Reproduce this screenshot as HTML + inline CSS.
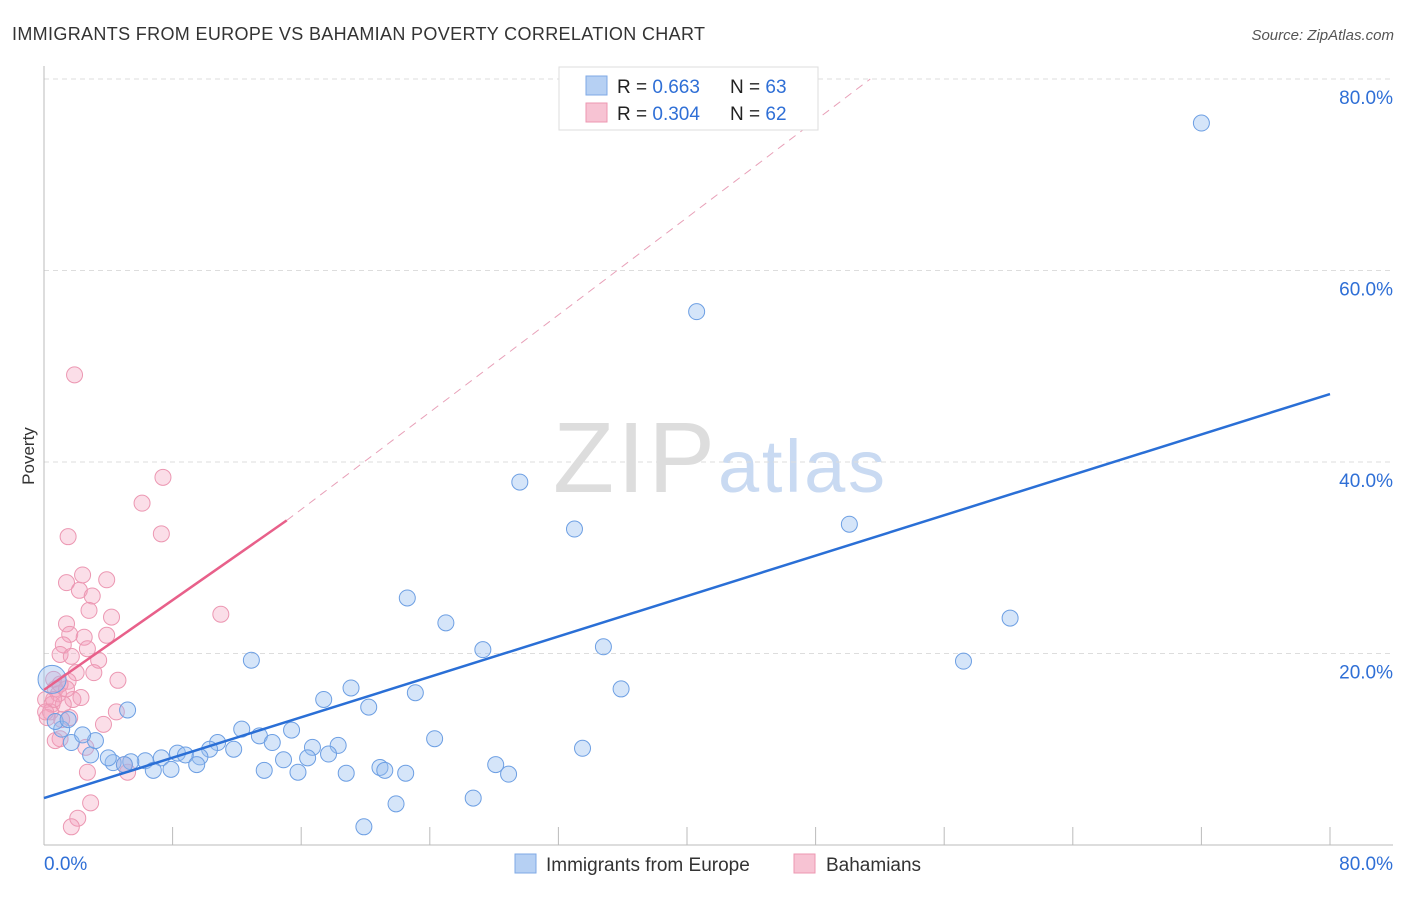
<!DOCTYPE html>
<html><head><meta charset="utf-8"><style>
body{margin:0;background:#fff;font-family:"Liberation Sans",sans-serif;}
svg text{font-family:"Liberation Sans",sans-serif;}
</style></head><body>
<svg id="chart" width="1406" height="892">
<text x="12" y="40" font-size="18" fill="#333" textLength="693">IMMIGRANTS FROM EUROPE VS BAHAMIAN POVERTY CORRELATION CHART</text>
<text x="1394" y="40" font-size="15" fill="#555" font-style="italic" text-anchor="end">Source: ZipAtlas.com</text>
<text x="34" y="456" font-size="17" fill="#333" transform="rotate(-90 34 456)" text-anchor="middle">Poverty</text>
<text x="553" y="492" font-size="100" fill="#ddd" font-family="Liberation Serif" textLength="162">ZIP</text>
<text x="718" y="492" font-size="74" fill="#c9daf2" textLength="167">atlas</text>
<g id="grid"></g><g id="axes"></g><g id="pts"></g><g id="lines"></g>
<g>
<rect x="559" y="67" width="259" height="63" fill="#fff" stroke="#ddd"/>
<rect x="586" y="76" width="21" height="19" fill="#b6d0f3" stroke="#7fa9e6"/>
<rect x="586" y="103" width="21" height="19" fill="#f7c3d3" stroke="#ec97b2"/>
<text x="617" y="93" font-size="19" fill="#222">R = <tspan fill="#2f6fd6">0.663</tspan></text>
<text x="730" y="93" font-size="19" fill="#222">N = <tspan fill="#2f6fd6">63</tspan></text>
<text x="617" y="120" font-size="19" fill="#222">R = <tspan fill="#2f6fd6">0.304</tspan></text>
<text x="730" y="120" font-size="19" fill="#222">N = <tspan fill="#2f6fd6">62</tspan></text>
</g>
<g>
<rect x="515" y="854" width="21" height="19" fill="#b6d0f3" stroke="#7fa9e6"/>
<text x="546" y="871" font-size="19" fill="#333">Immigrants from Europe</text>
<rect x="794" y="854" width="21" height="19" fill="#f7c3d3" stroke="#ec97b2"/>
<text x="826" y="871" font-size="19" fill="#333">Bahamians</text>
</g>
</svg>
<script>
const xTicks=[0,8,16,24,32,40,48,56,64,72,80];
const yTicks=[20,40,60,80];
const blueX=[72.0,40.6,29.6,33.0,50.1,22.6,60.1,25.0,27.3,34.8,12.9,57.2,5.2,19.1,35.9,17.4,20.2,23.1,24.3,33.5,15.4,12.3,13.4,10.8,14.2,11.8,10.3,8.3,8.8,9.7,16.7,18.3,17.7,16.4,14.9,7.3,6.3,5.4,4.3,5.0,4.0,2.9,3.2,1.7,2.4,1.1,0.5,9.5,7.9,6.8,13.7,15.8,18.8,20.9,21.2,22.5,28.1,28.9,26.7,21.9,19.9,0.7,1.5];
const blueY=[75.4,55.7,37.9,33.0,33.5,25.8,23.7,23.2,20.4,20.7,19.3,19.2,14.1,16.4,16.3,15.2,14.4,15.9,11.1,10.1,12.0,12.1,11.4,10.7,10.7,10.0,10.0,9.6,9.4,9.2,10.2,10.4,9.5,9.1,8.9,9.1,8.8,8.7,8.6,8.4,9.1,9.4,10.9,10.7,11.5,12.1,17.3,8.4,7.9,7.8,7.8,7.6,7.5,8.1,7.8,7.5,8.4,7.4,4.9,4.3,1.9,12.9,13.1];
const blueR=[8,8,8,8,8,8,8,8,8,8,8,8,8,8,8,8,8,8,8,8,8,8,8,8,8,8,8,8,8,8,8,8,8,8,8,8,8,8,8,8,8,8,8,8,8,8,14,8,8,8,8,8,8,8,8,8,8,8,8,8,8,8,8];
const pinkX=[1.9,7.4,6.1,7.3,1.5,2.4,1.4,3.9,2.2,3.0,2.8,4.2,1.4,1.6,3.9,2.5,1.2,2.7,1.0,1.7,3.4,2.0,3.1,0.6,4.6,1.5,0.7,0.9,2.3,0.1,1.8,0.5,1.2,0.4,1.6,4.5,3.7,1.1,1.0,0.7,2.6,5.0,5.2,2.7,2.9,2.1,1.7,11.0,1.4,0.2,0.6,0.1,1.0];
const pinkY=[49.1,38.4,35.7,32.5,32.2,28.2,27.4,27.7,26.6,26.0,24.5,23.8,23.1,22.0,21.9,21.7,20.9,20.5,19.9,19.7,19.3,18.0,18.0,17.3,17.2,17.1,16.3,15.8,15.4,15.2,15.2,14.7,14.7,13.9,13.3,13.9,12.6,13.1,11.1,10.9,10.2,8.4,7.6,7.6,4.4,2.8,1.9,24.1,16.3,13.3,15.2,13.9,16.8];
const X0=44,X1=1330,Y0=845,Y1=79;
const sx=v=>X0+(X1-X0)*v/80, sy=v=>Y0-(Y0-Y1)*v/80;
const NS="http://www.w3.org/2000/svg";
function mk(tag,attrs,parent){const e=document.createElementNS(NS,tag);for(const k in attrs)e.setAttribute(k,attrs[k]);document.getElementById(parent).appendChild(e);return e;}
yTicks.forEach(t=>{
 const l=mk('line',{x1:X0,x2:1393,y1:sy(t),y2:sy(t),stroke:'#ddd','stroke-dasharray':'5,4'},'grid');
 
 
 const tx=mk('text',{x:1393,y:sy(t)+25,'font-size':19,fill:'#2f6fd6','text-anchor':'end'},'axes');
 tx.textContent=t.toFixed(1)+'%';
 
 
});
const ax=mk('line',{x1:X0,x2:X0,y1:66,y2:Y0,stroke:'#bbb'},'axes');


const bx=mk('line',{x1:X0,x2:1393,y1:Y0,y2:Y0,stroke:'#bbb'},'axes');


xTicks.forEach(t=>{
 const l=mk('line',{x1:sx(t),x2:sx(t),y1:Y0,y2:Y0-18,stroke:'#bbb'},'axes');
 
 
});
[[0,'start',44],[80,'end',1393]].forEach(([t,a,x])=>{
 const tx=mk('text',{x:x,y:870,'font-size':19,fill:'#2f6fd6','text-anchor':a},'axes');
 tx.textContent=t.toFixed(1)+'%';
 
 
});
pinkX.forEach((v,i)=>{
 const c=mk('circle',{cx:sx(v),cy:sy(pinkY[i]),r:8,fill:'rgba(244,160,188,0.35)',stroke:'#ec97b2','stroke-width':1},'pts');
 
 
});
blueX.forEach((v,i)=>{
 const c=mk('circle',{cx:sx(v),cy:sy(blueY[i]),r:blueR[i],fill:'rgba(150,190,240,0.4)',stroke:'#6d9fe3','stroke-width':1},'pts');
 
 
});
const b=mk('line',{x1:sx(0),y1:sy(4.9),x2:sx(80),y2:sy(47.1),stroke:'#2a6fd6','stroke-width':2.5},'lines');


const p=mk('line',{x1:sx(0),y1:sy(16.2),x2:sx(15.1),y2:sy(33.9),stroke:'#e8608a','stroke-width':2.5},'lines');


const pd=mk('line',{x1:sx(15.1),y1:sy(33.9),x2:sx(51.4),y2:sy(80),stroke:'#e8a0b8','stroke-width':1,'stroke-dasharray':'8,6'},'lines');


</script>
</body></html>
